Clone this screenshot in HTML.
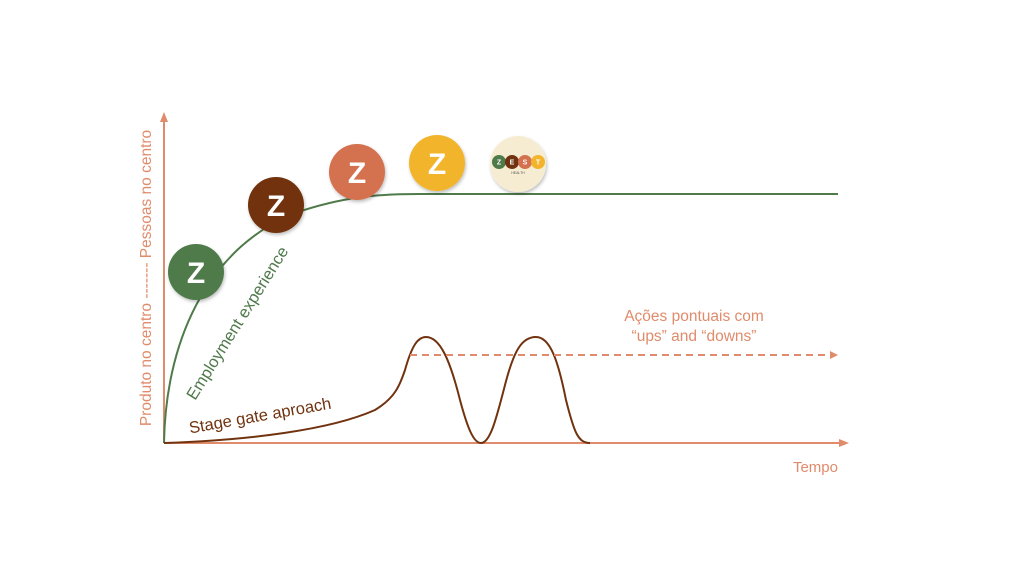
<!DOCTYPE html>
<html><head><meta charset="utf-8"><style>
html,body{margin:0;padding:0;background:#fff;width:1024px;height:576px;overflow:hidden}
svg{display:block}
text{font-family:"Liberation Sans",sans-serif}
</style></head><body>
<svg width="1024" height="576" viewBox="0 0 1024 576" xmlns="http://www.w3.org/2000/svg">
<defs>
<filter id="sh" x="-20%" y="-20%" width="140%" height="140%"><feDropShadow dx="1" dy="2" stdDeviation="1.5" flood-opacity="0.25"/></filter>
</defs>
<line x1="164" y1="443" x2="164" y2="120" stroke="#e08b6b" stroke-width="2"/>
<polygon points="164,112 160,122 168,122" fill="#e08b6b"/>
<line x1="164" y1="443" x2="840" y2="443" stroke="#e08b6b" stroke-width="2"/>
<polygon points="849,443 839,439 839,447" fill="#e08b6b"/>
<text transform="translate(151,278) rotate(-90)" text-anchor="middle" font-size="15.5" fill="#e08b6b">Produto no centro ------- Pessoas no centro</text>
<path d="M164,443 C166,330 215,245 295,213 C345,196 380,194 420,194 L838,194" fill="none" stroke="#4f7a4a" stroke-width="2"/>
<g filter="url(#sh)">
<circle cx="196" cy="272" r="28" fill="#4f7a4a"/>
<circle cx="276" cy="205" r="28" fill="#71330f"/>
<circle cx="357" cy="172" r="28" fill="#d4714f"/>
<circle cx="437" cy="163" r="28" fill="#f2b42c"/>
<circle cx="518" cy="164" r="28" fill="#f6ecd2"/>
</g>
<g font-weight="bold" font-size="30" fill="#fff" text-anchor="middle">
<text x="196" y="283">Z</text><text x="276" y="216">Z</text><text x="357" y="183">Z</text><text x="437" y="174">Z</text>
</g>
<g font-size="7" font-weight="bold" fill="#fff" text-anchor="middle">
<circle cx="499" cy="162" r="7" fill="#4f7a4a"/><circle cx="512" cy="162" r="7" fill="#71330f"/><circle cx="525" cy="162" r="7" fill="#d4714f"/><circle cx="538" cy="162" r="7" fill="#f2b42c"/>
<text x="499" y="164.5">Z</text><text x="512" y="164.5">E</text><text x="525" y="164.5">S</text><text x="538" y="164.5">T</text>
</g>
<text x="518" y="174" font-size="3.5" fill="#555" text-anchor="middle">HEALTH</text>
<path d="M164,443 C250,440 330,430 375,410 C395,398 400,385 405,370 C412,345 418,337 426,337 C440,337 450,360 460,400 C468,430 474,443 481,443 C490,443 496,420 505,385 C514,350 522,337 536,337 C550,337 558,360 566,400 C574,432 578,443 590,443" fill="none" stroke="#71330f" stroke-width="2"/>
<line x1="410" y1="355" x2="830" y2="355" stroke="#e08b6b" stroke-width="2" stroke-dasharray="7,5"/>
<polygon points="838,355 830,351 830,359" fill="#e08b6b"/>
<text transform="translate(242,326) rotate(-58)" text-anchor="middle" font-size="16.5" fill="#4f7a4a">Employment experience</text>
<text transform="translate(261,421) rotate(-10)" text-anchor="middle" font-size="16.5" fill="#71330f">Stage gate aproach</text>
<text x="694" y="321" text-anchor="middle" font-size="15.5" fill="#e08b6b">Ações pontuais com</text>
<text x="694" y="341" text-anchor="middle" font-size="15.5" fill="#e08b6b">“ups” and “downs”</text>
<text x="838" y="472" text-anchor="end" font-size="15" fill="#e08b6b">Tempo</text>
</svg>
</body></html>
